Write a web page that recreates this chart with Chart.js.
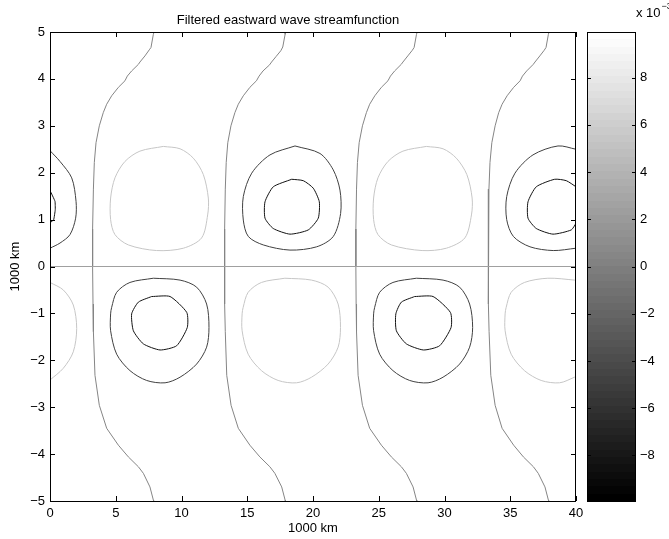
<!DOCTYPE html>
<html>
<head>
<meta charset="utf-8">
<script src="https://cdn.jsdelivr.net/npm/chart.js@4.4.1/dist/chart.umd.min.js"></script>
<style>
    html, body { margin: 0; padding: 0; background: #fff; }
    #wrap { position: relative; width: 669px; height: 539px; }
    #plot { position: absolute; left: 0; top: 0; }
    #cbar { position: absolute; left: 587px; top: 0; }
</style>
</head>
<body>
<div id="wrap">
    <canvas id="plot" width="669" height="539"></canvas>
    <canvas id="cbar" width="82" height="539"></canvas>
</div>
<script>
const xTicks = [0, 5, 10, 15, 20, 25, 30, 35, 40];
const yTicks = [-5, -4, -3, -2, -1, 0, 1, 2, 3, 4, 5];
const cbTicks = [-8, -6, -4, -2, 0, 2, 4, 6, 8];
const cbMin = -9.93;   // colour axis, x 10^-3
const cbMax = 9.93;
const nLevels = 64;

// zero contours (x, y) in 1000 km
const equator = [[0, 0], [40, 0]];
const zero1 = [[7.91, 5], [7.86, 4.95], [7.68, 4.67], [7.55, 4.62], [7.22, 4.49], [6.84, 4.36], [6.72, 4.31], [6.21, 4.17], [5.88, 4.06], [5.70, 3.96], [5.20, 3.82], [4.69, 3.64], [4.31, 3.46], [4.05, 3.28], [3.75, 3.00], [3.50, 2.64], [3.37, 2.22], [3.30, 1.65], [3.24, 0.80], [3.24, 0], [3.27, -0.80], [3.30, -1.39], [3.42, -2.32], [3.75, -2.96], [4.31, -3.45], [5.20, -3.81], [5.96, -4.06], [6.72, -4.27], [7.10, -4.41], [7.60, -4.70], [7.86, -4.98], [7.88, -5]];
const zero2 = [[17.93, 5], [17.88, 4.95], [17.70, 4.68], [17.55, 4.60], [17.20, 4.48], [16.85, 4.36], [16.70, 4.30], [16.20, 4.17], [15.90, 4.06], [15.70, 3.96], [15.20, 3.82], [14.70, 3.64], [14.32, 3.46], [14.06, 3.28], [13.76, 3.00], [13.52, 2.64], [13.40, 2.22], [13.33, 1.65], [13.28, 0.80], [13.27, 0], [13.29, -0.80], [13.33, -1.39], [13.44, -2.32], [13.77, -2.96], [14.32, -3.45], [15.20, -3.81], [15.96, -4.06], [16.72, -4.27], [17.10, -4.41], [17.62, -4.70], [17.88, -4.98], [17.90, -5]];
const zero3 = [[27.92, 5], [27.87, 4.95], [27.69, 4.67], [27.55, 4.61], [27.21, 4.49], [26.84, 4.36], [26.71, 4.31], [26.21, 4.17], [25.89, 4.06], [25.70, 3.96], [25.20, 3.82], [24.70, 3.64], [24.31, 3.46], [24.06, 3.28], [23.76, 3.00], [23.51, 2.64], [23.38, 2.22], [23.31, 1.65], [23.26, 0.80], [23.26, 0], [23.28, -0.80], [23.31, -1.39], [23.43, -2.32], [23.76, -2.96], [24.31, -3.45], [25.20, -3.81], [25.96, -4.06], [26.72, -4.27], [27.10, -4.41], [27.61, -4.70], [27.87, -4.98], [27.89, -5]];
const zero4 = [[37.95, 5], [37.90, 4.95], [37.72, 4.67], [37.58, 4.61], [37.25, 4.49], [36.88, 4.36], [36.75, 4.31], [36.25, 4.17], [35.93, 4.06], [35.75, 3.96], [35.26, 3.82], [34.76, 3.64], [34.38, 3.46], [34.12, 3.28], [33.85, 3.00], [33.60, 2.64], [33.46, 2.22], [33.38, 1.65], [33.33, 0.80], [33.33, 0], [33.35, -0.80], [33.39, -1.39], [33.52, -2.32], [33.85, -2.96], [34.38, -3.45], [35.26, -3.81], [36.00, -4.06], [36.76, -4.27], [37.13, -4.41], [37.64, -4.70], [37.90, -4.98], [37.92, -5]];

// negative (dark) contours, outer and inner
const darkUp0 = [[0, 2.47], [0.76, 2.24], [1.65, 1.89], [1.98, 1.39], [1.95, 1.03], [1.52, 0.68], [0.76, 0.50], [0, 0.39]];
const darkUp0In = [[0, 1.62], [0.38, 1.39], [0.40, 1.21], [0.28, 1.00], [0, 0.93]];
const darkLow8 = [[7.86, -0.25], [9.89, -0.29], [11.15, -0.44], [11.91, -0.80], [12.09, -1.30], [11.91, -1.72], [11.15, -2.08], [9.89, -2.36], [8.75, -2.48], [7.35, -2.43], [6.08, -2.22], [5.07, -1.87], [4.61, -1.37], [4.61, -1.01], [4.69, -0.87], [5.07, -0.55], [6.08, -0.34], [7.86, -0.25]];
const darkLow8In = [[7.73, -0.64], [9.13, -0.64], [10.40, -0.98], [10.44, -1.30], [9.63, -1.69], [8.37, -1.78], [7.10, -1.65], [6.34, -1.37], [6.21, -1.01], [6.72, -0.76], [7.73, -0.64]];
const darkUp18 = [[18.63, 2.57], [20.53, 2.41], [21.54, 2.06], [22.05, 1.63], [22.10, 1.13], [21.54, 0.64], [20.28, 0.42], [18.25, 0.35], [16.22, 0.46], [15.08, 0.64], [14.70, 0.99], [14.70, 1.49], [15.34, 1.99], [16.73, 2.38], [18.63, 2.57]];
const darkUp18In = [[18.38, 1.86], [19.26, 1.83], [20.02, 1.67], [20.48, 1.38], [20.40, 1.03], [19.64, 0.78], [18.25, 0.69], [16.98, 0.81], [16.35, 1.03], [16.35, 1.38], [16.98, 1.70], [18.38, 1.86]];
const darkLow28 = [[27.86, -0.25], [29.89, -0.29], [31.15, -0.44], [31.91, -0.80], [32.14, -1.30], [31.91, -1.72], [31.15, -2.08], [29.89, -2.36], [28.75, -2.48], [27.35, -2.43], [26.08, -2.22], [25.07, -1.87], [24.61, -1.37], [24.61, -1.01], [24.69, -0.87], [25.07, -0.55], [26.08, -0.34], [27.86, -0.25]];
const darkLow28In = [[27.73, -0.64], [29.13, -0.64], [30.45, -0.98], [30.50, -1.30], [29.63, -1.69], [28.40, -1.78], [27.10, -1.65], [26.34, -1.37], [26.30, -1.01], [26.72, -0.76], [27.73, -0.64]];
const darkUp38 = [[40, 0.39], [38.27, 0.34], [36.50, 0.42], [35.24, 0.64], [34.73, 1.00], [34.73, 1.49], [35.36, 1.99], [36.73, 2.38], [38.63, 2.57], [40, 2.50]];
const darkUp38In = [[40, 0.92], [39.64, 0.78], [38.25, 0.69], [36.98, 0.81], [36.35, 1.03], [36.35, 1.38], [36.98, 1.70], [38.38, 1.86], [39.26, 1.83], [40, 1.70]];

// positive (light) contours
const lightLow0 = [[0, -0.34], [1.01, -0.50], [1.77, -0.82], [2.03, -1.32], [1.77, -1.82], [1.01, -2.17], [0, -2.42]];
const lightUp8 = [[8.62, 2.56], [9.89, 2.51], [10.90, 2.31], [11.66, 1.96], [12.04, 1.46], [11.99, 1.10], [11.53, 0.61], [10.14, 0.39], [8.11, 0.34], [5.96, 0.46], [4.94, 0.68], [4.61, 1.00], [4.61, 1.46], [4.94, 1.89], [5.70, 2.24], [6.84, 2.46], [8.62, 2.56]];
const lightLow18 = [[17.86, -0.25], [19.89, -0.29], [21.15, -0.44], [21.91, -0.80], [22.09, -1.30], [21.91, -1.72], [21.15, -2.08], [19.89, -2.36], [18.75, -2.48], [17.35, -2.43], [16.08, -2.22], [15.07, -1.87], [14.61, -1.37], [14.61, -1.01], [14.69, -0.87], [15.07, -0.55], [16.08, -0.34], [17.86, -0.25]];
const lightUp28 = [[28.62, 2.56], [29.89, 2.51], [30.90, 2.31], [31.70, 1.96], [32.10, 1.46], [32.05, 1.10], [31.55, 0.61], [30.14, 0.39], [28.30, 0.34], [25.96, 0.46], [24.94, 0.68], [24.61, 1.00], [24.61, 1.46], [24.94, 1.89], [25.70, 2.24], [26.84, 2.46], [28.62, 2.56]];
const lightLow38 = [[40, -0.30], [39.89, -0.29], [37.86, -0.25], [36.08, -0.34], [35.07, -0.55], [34.69, -0.87], [34.61, -1.01], [34.61, -1.37], [35.07, -1.87], [36.08, -2.22], [37.35, -2.43], [38.75, -2.48], [39.89, -2.36], [40, -2.34]];

Chart.defaults.font.family = "'Liberation Sans', Arial, Helvetica, sans-serif";
Chart.defaults.font.size = 13;
Chart.defaults.color = '#000';

const fmt = v => String(v).replace('-', '\u2212');

function line(points, color, tension) {
    return {
        data: points.map(p => ({ x: p[0], y: p[1] })),
        showLine: true,
        borderColor: color,
        borderWidth: 1,
        pointRadius: 0,
        tension: tension,
        fill: false
    };
}

const zeroColor = '#858585';
const outerDark = '#404040';
const innerDark = '#121212';
const lightColor = '#c6c6c6';

const datasets = [
    line(equator, '#a0a0a0', 0),
    line(zero1, zeroColor, 0), line(zero2, zeroColor, 0),
    line(zero3, zeroColor, 0), line(zero4, zeroColor, 0),
    line(darkUp0, outerDark, 0.3), line(darkUp0In, innerDark, 0.1),
    line(darkLow8, outerDark, 0.3), line(darkLow8In, innerDark, 0.2),
    line(darkUp18, outerDark, 0.3), line(darkUp18In, innerDark, 0.2),
    line(darkLow28, outerDark, 0.3), line(darkLow28In, innerDark, 0.2),
    line(darkUp38, outerDark, 0.3), line(darkUp38In, innerDark, 0.2),
    line(lightLow0, lightColor, 0.3), line(lightUp8, lightColor, 0.3),
    line(lightLow18, lightColor, 0.3), line(lightUp28, lightColor, 0.3),
    line(lightLow38, lightColor, 0.3)
];

// box round the axes with inward ticks, matlab style
const frame = {
    id: 'frame',
    afterDraw(chart) {
        const { ctx, chartArea: a, scales: { x, y } } = chart;
        ctx.save();
        ctx.strokeStyle = '#000';
        ctx.lineWidth = 1;
        ctx.beginPath();
        xTicks.forEach(v => {
            const px = Math.round(x.getPixelForValue(v)) + 0.5;
            ctx.moveTo(px, a.bottom); ctx.lineTo(px, a.bottom - 5);
            ctx.moveTo(px, a.top); ctx.lineTo(px, a.top + 5);
        });
        yTicks.forEach(v => {
            const py = Math.round(y.getPixelForValue(v)) + 0.5;
            ctx.moveTo(a.left, py); ctx.lineTo(a.left + 5, py);
            ctx.moveTo(a.right, py); ctx.lineTo(a.right - 5, py);
        });
        ctx.stroke();
        ctx.strokeRect(a.left + 0.5, a.top + 0.5, a.width - 1, a.height);
        ctx.restore();
    }
};

new Chart(document.getElementById('plot'), {
    type: 'scatter',
    data: { datasets: datasets },
    options: {
        responsive: false,
        animation: false,
        devicePixelRatio: 1,
        layout: { padding: { left: 0, right: 93, top: 0, bottom: 0 } },
        plugins: {
            legend: { display: false },
            tooltip: { enabled: false },
            title: {
                display: true,
                text: 'Filtered eastward wave streamfunction',
                color: '#000',
                font: { size: 13, weight: 'normal' },
                padding: { top: 12.2, bottom: 4.2 }
            }
        },
        scales: {
            x: {
                type: 'linear', min: 0, max: 40,
                grid: { display: false, drawTicks: false },
                border: { display: false },
                afterBuildTicks: s => { s.ticks = xTicks.map(v => ({ value: v })); },
                afterFit: s => { s.height = 38; },
                ticks: { padding: 5, maxRotation: 0, autoSkip: false, callback: fmt },
                title: { display: true, text: '1000 km', padding: { top: 0, bottom: 3.2 } }
            },
            y: {
                type: 'linear', min: -5, max: 5,
                grid: { display: false, drawTicks: false },
                border: { display: false },
                afterBuildTicks: s => { s.ticks = yTicks.map(v => ({ value: v })); },
                afterFit: s => { s.width = 50; },
                ticks: { padding: 5, autoSkip: false, callback: fmt },
                title: { display: true, text: '1000 km', padding: { top: 8, bottom: 0 } }
            }
        }
    },
    plugins: [frame]
});

// colour bar: one floating bar with a stepped gray map
function grayRamp(c) {
    const area = c.chart.chartArea;
    if (!area) return '#808080';
    const g = c.chart.ctx.createLinearGradient(0, area.bottom, 0, area.top);
    for (let i = 0; i < nLevels; i++) {
        const v = Math.round(255 * i / (nLevels - 1));
        const col = `rgb(${v},${v},${v})`;
        g.addColorStop(i / nLevels, col);
        g.addColorStop((i + 1) / nLevels, col);
    }
    return g;
}

const cbFrame = {
    id: 'cbFrame',
    afterDraw(chart) {
        const { ctx, chartArea: a, scales: { y } } = chart;
        ctx.save();
        ctx.strokeStyle = '#000';
        ctx.lineWidth = 1;
        ctx.beginPath();
        cbTicks.forEach(v => {
            const py = Math.round(y.getPixelForValue(v)) + 0.5;
            ctx.moveTo(a.left, py); ctx.lineTo(a.left + 4, py);
            ctx.moveTo(a.right, py); ctx.lineTo(a.right - 4, py);
        });
        ctx.stroke();
        ctx.strokeRect(a.left + 0.5, a.top + 0.5, a.width - 1, a.height);
        ctx.fillStyle = '#000';
        ctx.textBaseline = 'alphabetic';
        ctx.font = "13px 'Liberation Sans', Arial, sans-serif";
        ctx.fillText('x 10', a.right, 17);
        const w = ctx.measureText('x 10').width;
        ctx.font = "9px 'Liberation Sans', Arial, sans-serif";
        ctx.fillText('\u22123', a.right + w + 1, 9);
        ctx.restore();
    }
};

new Chart(document.getElementById('cbar'), {
    type: 'bar',
    data: {
        labels: [''],
        datasets: [{
            data: [[cbMin, cbMax]],
            backgroundColor: grayRamp,
            borderWidth: 0,
            barPercentage: 1,
            categoryPercentage: 1
        }]
    },
    options: {
        responsive: false,
        animation: false,
        devicePixelRatio: 1,
        layout: { padding: { left: 0, right: 0, top: 32, bottom: 38 } },
        plugins: { legend: { display: false }, tooltip: { enabled: false } },
        scales: {
            x: { display: false },
            y: {
                position: 'right', min: cbMin, max: cbMax,
                grid: { display: false, drawTicks: false },
                border: { display: false },
                afterBuildTicks: s => { s.ticks = cbTicks.map(v => ({ value: v })); },
                afterFit: s => { s.width = 33; },
                ticks: { padding: 4, callback: fmt }
            }
        }
    },
    plugins: [cbFrame]
});
</script>
</body>
</html>
